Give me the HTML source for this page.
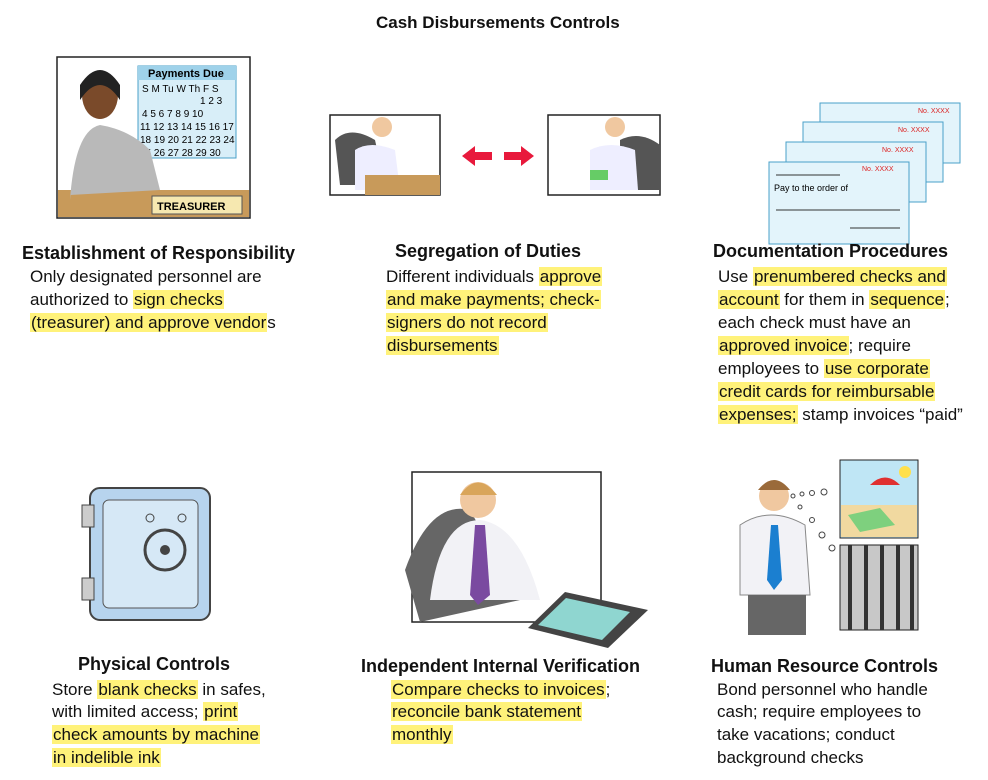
<!DOCTYPE html>
<html><head><meta charset="utf-8"><style>
body{margin:0;width:988px;height:780px;background:#fff;position:relative;overflow:hidden;font-family:"Liberation Sans",sans-serif;color:#111}
.t{position:absolute;font-size:17px;white-space:nowrap;line-height:20px}
.h{position:absolute;font-size:18px;font-weight:bold;white-space:nowrap}
.hl{background:#fff27a;padding:0 1px}
svg{position:absolute;left:0;top:0}
</style></head><body>
<div class="h" style="left:376px;top:13px;font-size:17px">Cash Disbursements Controls</div>

<svg width="988" height="780">
 <g>
  <rect x="57" y="57" width="193" height="161" fill="#fff" stroke="#222" stroke-width="1.5"/>
  <rect x="138" y="66" width="98" height="92" fill="#d8eef8" stroke="#4aa0c8"/>
  <rect x="138" y="66" width="98" height="14" fill="#9fd2ea"/>
  <text x="148" y="77" font-size="11" font-weight="bold" font-family="Liberation Sans">Payments Due</text>
  <text x="142" y="92" font-size="10" font-family="Liberation Sans">S M Tu W Th F S</text>
  <text x="200" y="104" font-size="10" font-family="Liberation Sans">1 2 3</text>
  <text x="142" y="117" font-size="10" font-family="Liberation Sans">4 5 6 7 8 9 10</text>
  <text x="140" y="130" font-size="10" font-family="Liberation Sans">11 12 13 14 15 16 17</text>
  <text x="140" y="143" font-size="10" font-family="Liberation Sans">18 19 20 21 22 23 24</text>
  <text x="140" y="156" font-size="10" font-family="Liberation Sans">25 26 27 28 29 30</text>
  <rect x="58" y="190" width="191" height="27" fill="#c89a5a"/>
  <path d="M70 200 Q75 130 100 125 Q130 130 150 150 L160 190 L70 195Z" fill="#b9b9b9"/>
  <ellipse cx="100" cy="95" rx="18" ry="24" fill="#7a4a2a"/>
  <path d="M80 85 Q100 55 120 85 L120 100 Q100 70 80 100Z" fill="#222"/>
  <rect x="152" y="196" width="90" height="18" fill="#f6e8b0" stroke="#555"/>
  <text x="157" y="210" font-size="11" font-weight="bold" font-family="Liberation Sans">TREASURER</text>
 </g>
 <g>
  <rect x="330" y="115" width="110" height="80" fill="#fff" stroke="#222" stroke-width="1.5"/>
  <rect x="548" y="115" width="112" height="80" fill="#fff" stroke="#222" stroke-width="1.5"/>
  <path d="M335 140 Q350 125 375 140 L385 185 L340 185Z" fill="#555"/>
  <path d="M355 150 Q370 140 395 150 L400 190 L355 190Z" fill="#eef"/>
  <circle cx="382" cy="127" r="10" fill="#f0c8a0"/>
  <rect x="365" y="175" width="75" height="20" fill="#c89a5a"/>
  <path d="M620 140 Q640 130 660 145 L660 190 L620 190Z" fill="#555"/>
  <path d="M590 150 Q610 140 635 150 L638 190 L590 190Z" fill="#eef"/>
  <circle cx="615" cy="127" r="10" fill="#f0c8a0"/>
  <rect x="590" y="170" width="18" height="10" fill="#6c6"/>
  <path d="M462 156 L475 146 L475 152 L492 152 L492 160 L475 160 L475 166Z" fill="#e8193c"/>
  <path d="M534 156 L521 146 L521 152 L504 152 L504 160 L521 160 L521 166Z" fill="#e8193c"/>
 </g>
 <g font-family="Liberation Sans">
  <rect x="820" y="103" width="140" height="60" fill="#e3f4fb" stroke="#4aa0c8"/>
  <rect x="803" y="122" width="140" height="60" fill="#e3f4fb" stroke="#4aa0c8"/>
  <rect x="786" y="142" width="140" height="60" fill="#e3f4fb" stroke="#4aa0c8"/>
  <rect x="769" y="162" width="140" height="82" fill="#e3f4fb" stroke="#4aa0c8"/>
  <text x="918" y="113" font-size="7" fill="#d22">No. XXXX</text>
  <text x="898" y="132" font-size="7" fill="#d22">No. XXXX</text>
  <text x="882" y="152" font-size="7" fill="#d22">No. XXXX</text>
  <text x="862" y="171" font-size="7" fill="#d22">No. XXXX</text>
  <text x="774" y="191" font-size="9">Pay to the order of</text>
  <line x1="776" y1="175" x2="840" y2="175" stroke="#333"/>
  <line x1="776" y1="210" x2="900" y2="210" stroke="#333"/>
  <line x1="850" y1="228" x2="900" y2="228" stroke="#333"/>
 </g>
 <g>
  <rect x="90" y="488" width="120" height="132" rx="10" fill="#b7d4ee" stroke="#444" stroke-width="2"/>
  <rect x="103" y="500" width="95" height="108" rx="6" fill="#d6e8f6" stroke="#555"/>
  <rect x="82" y="505" width="12" height="22" fill="#ccc" stroke="#444"/>
  <rect x="82" y="578" width="12" height="22" fill="#ccc" stroke="#444"/>
  <circle cx="165" cy="550" r="20" fill="none" stroke="#444" stroke-width="3"/>
  <circle cx="165" cy="550" r="5" fill="#444"/>
  <circle cx="150" cy="518" r="4" fill="none" stroke="#444"/><circle cx="182" cy="518" r="4" fill="none" stroke="#444"/>
 </g>
 <g>
  <rect x="412" y="472" width="189" height="150" fill="#fff" stroke="#222" stroke-width="1.5"/>
  <path d="M405 570 Q430 500 470 510 L520 600 L420 622Z" fill="#666"/>
  <path d="M430 600 Q440 520 480 520 Q520 525 540 600Z" fill="#f2f2f6"/>
  <circle cx="478" cy="500" r="18" fill="#f0c8a0"/>
  <path d="M460 495 Q478 470 497 495" fill="#d9a55a"/>
  <path d="M475 525 L485 525 L490 595 L478 605 L470 595Z" fill="#7a4aa0"/>
  <path d="M528 628 L565 592 L648 610 L608 648Z" fill="#444"/>
  <path d="M538 625 L566 598 L630 612 L602 640Z" fill="#8fd6d0"/>
 </g>
 <g>
  <path d="M740 525 Q770 505 805 525 L810 595 L740 595Z" fill="#f2f2f6" stroke="#888"/>
  <circle cx="774" cy="496" r="15" fill="#f0c8a0"/>
  <path d="M758 490 Q774 470 790 490" fill="#9a6a3a"/>
  <path d="M771 525 L778 525 L782 580 L774 590 L767 580Z" fill="#1b7fd0"/>
  <rect x="748" y="595" width="58" height="40" fill="#666"/>
  <g fill="none" stroke="#444"><circle cx="793" cy="496" r="2"/><circle cx="802" cy="494" r="2"/><circle cx="812" cy="493" r="2.5"/><circle cx="824" cy="492" r="3"/><circle cx="800" cy="507" r="2"/><circle cx="812" cy="520" r="2.5"/><circle cx="822" cy="535" r="3"/><circle cx="832" cy="548" r="3"/></g>
  <rect x="840" y="460" width="78" height="78" fill="#bfe6f5" stroke="#222"/>
  <rect x="841" y="505" width="76" height="32" fill="#f1d9a0"/>
  <circle cx="905" cy="472" r="6" fill="#ffe04a"/>
  <path d="M870 485 Q885 470 900 485Z" fill="#e03030"/>
  <path d="M848 515 L880 508 L895 525 L860 532Z" fill="#7ed07e"/>
  <rect x="840" y="545" width="78" height="85" fill="#c8c8c8" stroke="#222"/>
  <g stroke="#333" stroke-width="4"><line x1="850" y1="545" x2="850" y2="630"/><line x1="866" y1="545" x2="866" y2="630"/><line x1="882" y1="545" x2="882" y2="630"/><line x1="898" y1="545" x2="898" y2="630"/><line x1="912" y1="545" x2="912" y2="630"/></g>
 </g>
</svg>

<div class="h" style="left:22px;top:243px">Establishment of Responsibility</div>
<div class="t" style="left:30px;top:267px">Only designated personnel are</div>
<div class="t" style="left:30px;top:290px">authorized to <span class="hl">sign checks</span></div>
<div class="t" style="left:30px;top:313px"><span class="hl">(treasurer) and approve vendor</span>s</div>

<div class="h" style="left:395px;top:241px">Segregation of Duties</div>
<div class="t" style="left:386px;top:267px">Different individuals <span class="hl">approve</span></div>
<div class="t" style="left:386px;top:290px"><span class="hl">and make payments; check-</span></div>
<div class="t" style="left:386px;top:313px"><span class="hl">signers do not record</span></div>
<div class="t" style="left:386px;top:336px"><span class="hl">disbursements</span></div>

<div class="h" style="left:713px;top:241px">Documentation Procedures</div>
<div class="t" style="left:718px;top:267px">Use <span class="hl">prenumbered checks and</span></div>
<div class="t" style="left:718px;top:290px"><span class="hl">account</span> for them in <span class="hl">sequence</span>;</div>
<div class="t" style="left:718px;top:313px">each check must have an</div>
<div class="t" style="left:718px;top:336px"><span class="hl">approved invoice</span>; require</div>
<div class="t" style="left:718px;top:359px">employees to <span class="hl">use corporate</span></div>
<div class="t" style="left:718px;top:382px"><span class="hl">credit cards for reimbursable</span></div>
<div class="t" style="left:718px;top:405px"><span class="hl">expenses;</span> stamp invoices “paid”</div>

<div class="h" style="left:78px;top:654px">Physical Controls</div>
<div class="t" style="left:52px;top:680px">Store <span class="hl">blank checks</span> in safes,</div>
<div class="t" style="left:52px;top:702px">with limited access; <span class="hl">print</span></div>
<div class="t" style="left:52px;top:725px"><span class="hl">check amounts by machine</span></div>
<div class="t" style="left:52px;top:748px"><span class="hl">in indelible ink</span></div>

<div class="h" style="left:361px;top:656px">Independent Internal Verification</div>
<div class="t" style="left:391px;top:680px"><span class="hl">Compare checks to invoices</span>;</div>
<div class="t" style="left:391px;top:702px"><span class="hl">reconcile bank statement</span></div>
<div class="t" style="left:391px;top:725px"><span class="hl">monthly</span></div>

<div class="h" style="left:711px;top:656px">Human Resource Controls</div>
<div class="t" style="left:717px;top:680px">Bond personnel who handle</div>
<div class="t" style="left:717px;top:702px">cash; require employees to</div>
<div class="t" style="left:717px;top:725px">take vacations; conduct</div>
<div class="t" style="left:717px;top:748px">background checks</div>
</body></html>
